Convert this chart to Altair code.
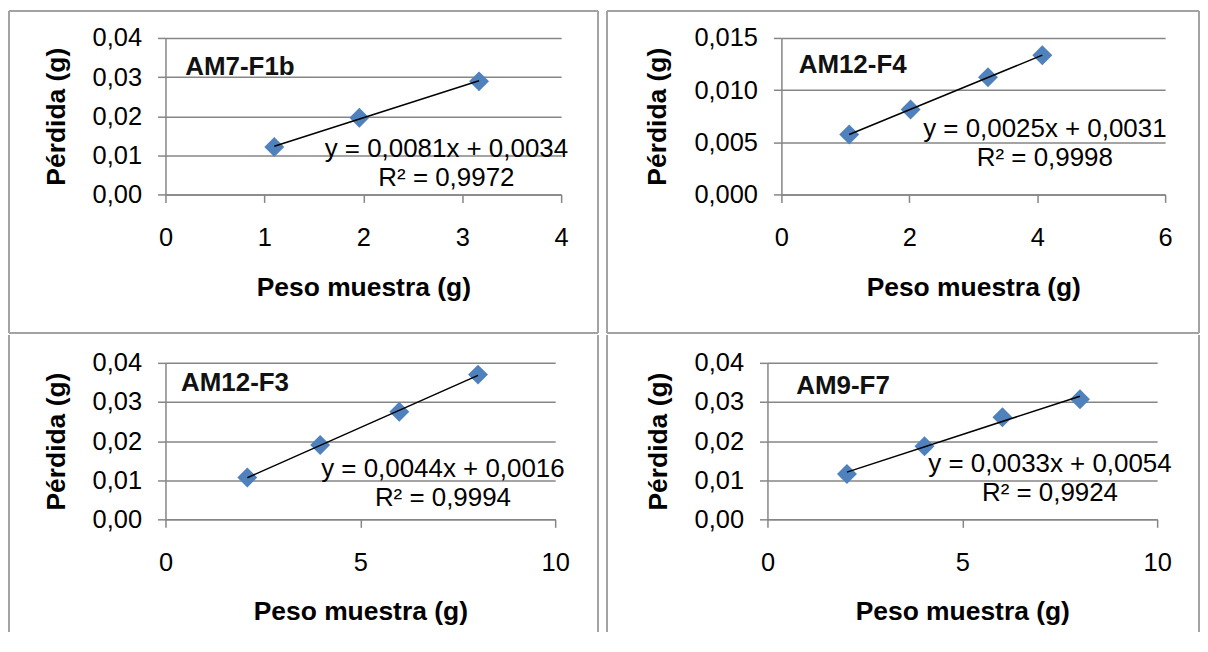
import altair as alt
import pandas as pd

# ---------------- data ----------------
names = ["AM7-F1b", "AM12-F4", "AM12-F3", "AM9-F7"]

x_am7f1b = [1.10, 1.96, 3.17]
y_am7f1b = [0.0121, 0.0196, 0.0289]

x_am12f4 = [1.06, 2.02, 3.23, 4.08]
y_am12f4 = [0.00575, 0.00814, 0.01124, 0.01334]

x_am12f3 = [2.10, 3.97, 6.00, 8.02]
y_am12f3 = [0.0107, 0.0190, 0.0275, 0.0370]

x_am9f7 = [2.04, 4.03, 6.03, 8.02]
y_am9f7 = [0.0116, 0.0187, 0.0261, 0.0307]

equations = ["y = 0,0081x + 0,0034", "y = 0,0025x + 0,0031",
             "y = 0,0044x + 0,0016", "y = 0,0033x + 0,0054"]
r_squared = ["R² = 0,9972", "R² = 0,9998", "R² = 0,9994", "R² = 0,9924"]

x_max = [4, 6, 10, 10]
x_ticks = [[0, 1, 2, 3, 4], [0, 2, 4, 6], [0, 5, 10], [0, 5, 10]]
y_max = [0.04, 0.015, 0.04, 0.04]
y_ticks = [[0, 0.01, 0.02, 0.03, 0.04], [0, 0.005, 0.010, 0.015],
           [0, 0.01, 0.02, 0.03, 0.04], [0, 0.01, 0.02, 0.03, 0.04]]
y_decimals = [2, 3, 2, 2]

# annotation anchors in data units (x, y)
label_x = [0.20, 0.27, 0.40, 0.74]
label_y = [0.0305, 0.01165, 0.0328, 0.0320]
eq_x = [2.84, 4.12, 7.12, 7.25]
eq_y = [0.0096, 0.00552, 0.0109, 0.0120]

xs = [x_am7f1b, x_am12f4, x_am12f3, x_am9f7]
ys = [y_am7f1b, y_am12f4, y_am12f3, y_am9f7]

# ---------------- styling / layout ----------------
FONT = "Liberation Sans"
AX = "#868686"
BORDER = "#a3a3a3"
BLUE = "#4F81BD"
H = 157
widths = [397, 385, 391, 391]
ytitle_x = [-101.5, -116, -101.5, -101.5]
# panel border rules relative to plot origin: left, right, top, bottom
borders = [(-157, 434, -27, 296), (-175, 419, -27, 296),
           (-157, 434, -28, 270), (-161, 433, -28, 270)]

one = pd.DataFrame({"k": [0]})


def vrule(x, y1, y2):
    return alt.Chart(one).mark_rule(color=BORDER, strokeWidth=2).encode(
        x=alt.value(x), y=alt.value(y1), y2=alt.value(y2))


def hrule(y, x1, x2):
    return alt.Chart(one).mark_rule(color=BORDER, strokeWidth=2).encode(
        y=alt.value(y), x=alt.value(x1), x2=alt.value(x2))


def panel(i, top_row):
    df = pd.DataFrame({"x": xs[i], "y": ys[i]})
    ann = pd.DataFrame({"lx": [label_x[i]], "ly": [label_y[i]],
                        "ex": [eq_x[i]], "ey": [eq_y[i]]})
    W = widths[i]
    dec = y_decimals[i]
    xscale = alt.Scale(domain=[0, x_max[i]], nice=False, zero=True)
    yscale = alt.Scale(domain=[0, y_max[i]], nice=False, zero=True)
    xaxis = alt.Axis(
        values=x_ticks[i], grid=False, title="Peso muestra (g)",
        format="d",
        domainColor=AX, domainWidth=1.5, tickColor=AX, tickWidth=1.5, tickSize=8,
        labelFont=FONT, labelFontSize=25.5, labelColor="black",
        labelBaseline="alphabetic", labelPadding=43, labelFlush=False,
        labelOverlap=False,
        titleFont=FONT, titleFontSize=26.5, titleFontWeight="bold",
        titleColor="black", titleX=W / 2, titleY=101,
        titleBaseline="alphabetic", titleAlign="center")
    yaxis = alt.Axis(
        values=y_ticks[i], grid=True, gridColor=AX, gridWidth=1.5,
        gridOpacity=1, title="Pérdida (g)",
        domainColor=AX, domainWidth=1.5, tickColor=AX, tickWidth=1.5, tickSize=8,
        labelFont=FONT, labelFontSize=25.5, labelColor="black", labelPadding=16,
        labelOverlap=False, labelFlush=False,
        labelExpr=f"replace(format(datum.value, '.{dec}f'), '.', ',')",
        titleFont=FONT, titleFontSize=26.5, titleFontWeight="bold",
        titleColor="black", titleAngle=-90, titleX=ytitle_x[i], titleY=H / 2,
        titleBaseline="alphabetic", titleAlign="center")

    def X(f):
        return alt.X(f"{f}:Q", scale=xscale, axis=xaxis, title="Peso muestra (g)")

    def Y(f):
        return alt.Y(f"{f}:Q", scale=yscale, axis=yaxis, title="Pérdida (g)")

    points = alt.Chart(df).mark_point(
        shape="diamond", filled=True, size=400, color=BLUE, opacity=1
    ).encode(x=X("x"), y=Y("y"))
    trend = alt.Chart(df).transform_regression("x", "y").mark_line(
        color="black", strokeWidth=1.5
    ).encode(x=X("x"), y=Y("y"))
    label = alt.Chart(ann).mark_text(
        font=FONT, fontSize=26, fontWeight="bold", color="#111111",
        align="left", baseline="alphabetic"
    ).encode(x=X("lx"), y=Y("ly"), text=alt.value(names[i]))
    eq = alt.Chart(ann).mark_text(
        font=FONT, fontSize=26, color="black", align="center",
        baseline="alphabetic", lineHeight=29
    ).encode(x=X("ex"), y=Y("ey"),
             text=alt.value([equations[i], r_squared[i]]))

    l, r, t, b = borders[i]
    layers = [vrule(l, t, b), vrule(r, t, b)]
    if top_row:
        layers += [hrule(t, l, r), hrule(b, l, r)]
    layers += [points, trend, label, eq]
    return alt.layer(*layers).properties(width=W, height=H)


row1 = alt.hconcat(panel(0, True), panel(1, True), spacing=7)
row2 = alt.hconcat(panel(2, False), panel(3, False), spacing=7)

chart = alt.vconcat(row1, row2, spacing=0).properties(
    padding={"left": 0, "top": 1, "right": 0, "bottom": 0},
    background="white",
).configure_view(stroke=None)

chart.save("out.html", embed_options={"renderer": "svg", "actions": False})
